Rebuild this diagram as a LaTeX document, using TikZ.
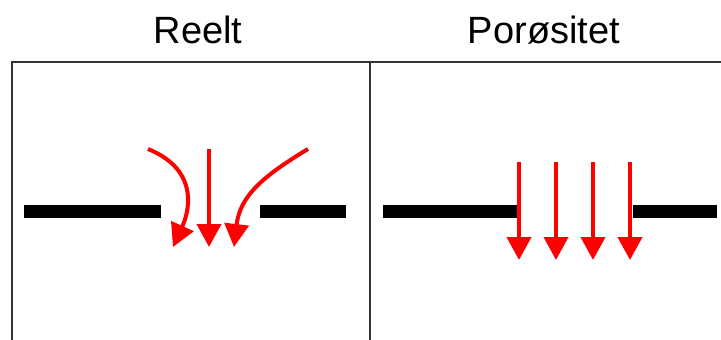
\documentclass[tikz,border=0pt]{standalone}
\usepackage{fontspec}
\setmainfont{Liberation Sans}
\usetikzlibrary{arrows.meta}
\begin{document}
\begin{tikzpicture}[x=1pt,y=-1pt,
  frame/.style={draw=black!80,line width=1.3pt},
  wall/.style={line width=13pt,black},
  flow/.style={draw=red,line width=4pt,-{Triangle[length=23pt,width=24pt]}},
  title/.style={font=\fontsize{38}{40}\selectfont,inner sep=0pt}]
\useasboundingbox (0,0) rectangle (721,340);
\clip (0,0) rectangle (721,340);
% titles
\node[title] (t1) at (198,30) {Reelt};
\node[title] (t2) at (544,30) {Porøsitet};
% frame
\draw[frame] (12,62) rectangle (721.6,345);
\draw[frame] (370,62) -- (370,345);
% left panel walls
\coordinate (la) at (24,211); \coordinate (lb) at (161,211);
\coordinate (lc) at (260,211); \coordinate (ld) at (346,211);
\draw[wall] (la) -- (lb);
\draw[wall] (lc) -- (ld);
% left panel arrows
\coordinate (s1) at (148,149); \coordinate (e1) at (173,247);
\coordinate (s2) at (209,149); \coordinate (e2) at (209,247);
\coordinate (s3) at (308,149); \coordinate (e3) at (234,247);
\draw[flow] (s1) .. controls (195,168) and (192,205) .. (e1);
\draw[flow] (s2) -- (e2);
\draw[flow] (s3) .. controls (265,175) and (240,195) .. (e3);
% right panel walls
\coordinate (ra) at (383,211); \coordinate (rb) at (517,211);
\coordinate (rc) at (633,211); \coordinate (rd) at (717,211);
\draw[wall] (ra) -- (rb);
\draw[wall] (rc) -- (rd);
% right panel arrows
\foreach \i/\x in {1/519,2/556,3/593,4/630}{
  \coordinate (p\i) at (\x,162);
  \coordinate (q\i) at (\x,260);
  \draw[flow] (p\i) -- (q\i);
}
\end{tikzpicture}
\end{document}
